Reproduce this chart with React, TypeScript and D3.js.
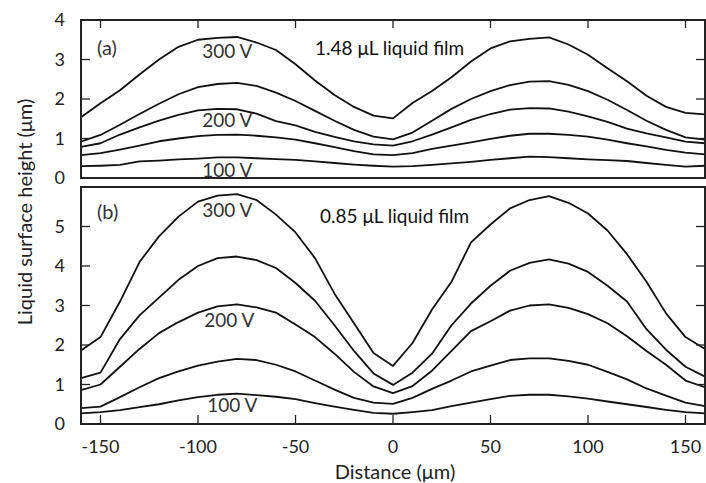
import * as d3 from 'd3';

// distance grid (µm)
const distance = [-160, -150, -140, -130, -120, -110, -100, -90, -80, -70, -60, -50, -40, -30, -20, -10, 0,
  10, 20, 30, 40, 50, 60, 70, 80, 90, 100, 110, 120, 130, 140, 150, 160];

// (a) 1.48 µL film, heights in µm
const a300 = [1.54, 1.89, 2.22, 2.62, 3.0, 3.32, 3.5, 3.55, 3.57, 3.43, 3.24, 2.88, 2.47, 2.1, 1.8, 1.58, 1.51,
  1.9, 2.2, 2.55, 2.95, 3.28, 3.46, 3.52, 3.56, 3.38, 3.12, 2.78, 2.45, 2.08, 1.8, 1.65, 1.61];
const a250 = [0.92, 1.09, 1.35, 1.62, 1.88, 2.12, 2.3, 2.38, 2.41, 2.33, 2.16, 1.95, 1.7, 1.45, 1.22, 1.05, 0.98,
  1.15, 1.45, 1.75, 2.0, 2.2, 2.35, 2.44, 2.45, 2.36, 2.2, 1.98, 1.72, 1.45, 1.22, 1.03, 0.97];
const a200 = [0.79, 0.88, 1.1, 1.28, 1.45, 1.6, 1.71, 1.75, 1.74, 1.63, 1.44, 1.33, 1.17, 1.04, 0.93, 0.85, 0.82,
  0.93, 1.1, 1.28, 1.47, 1.62, 1.73, 1.77, 1.76, 1.68, 1.56, 1.42, 1.25, 1.13, 1.03, 0.92, 0.88];
const a150 = [0.58, 0.63, 0.72, 0.82, 0.93, 1.0, 1.06, 1.09, 1.1, 1.07, 1.03, 0.97, 0.88, 0.78, 0.68, 0.6, 0.58,
  0.63, 0.74, 0.82, 0.9, 0.99, 1.07, 1.12, 1.12, 1.09, 1.05, 0.97, 0.88, 0.8, 0.71, 0.64, 0.6];
const a100 = [0.3, 0.31, 0.33, 0.42, 0.44, 0.47, 0.49, 0.52, 0.52, 0.5, 0.48, 0.46, 0.42, 0.38, 0.34, 0.31, 0.29,
  0.3, 0.33, 0.37, 0.41, 0.46, 0.5, 0.54, 0.53, 0.5, 0.47, 0.45, 0.43, 0.38, 0.33, 0.29, 0.31];

// (b) 0.85 µL film
const b300 = [1.86, 2.2, 3.1, 4.1, 4.75, 5.25, 5.63, 5.78, 5.82, 5.67, 5.3, 4.85, 4.2, 3.3, 2.55, 1.8, 1.47,
  2.05, 2.9, 3.6, 4.6, 5.05, 5.46, 5.67, 5.77, 5.6, 5.33, 4.9, 4.3, 3.6, 2.8, 2.2, 1.9];
const b250 = [1.16, 1.3, 2.15, 2.75, 3.2, 3.65, 4.0, 4.2, 4.24, 4.15, 3.95, 3.57, 3.12, 2.5, 1.85, 1.28, 0.99,
  1.3, 1.78, 2.5, 3.05, 3.5, 3.88, 4.08, 4.17, 4.06, 3.85, 3.5, 3.1, 2.4, 1.88, 1.45, 1.2];
const b200 = [0.86, 1.0, 1.45, 1.9, 2.3, 2.58, 2.82, 2.98, 3.03, 2.95, 2.82, 2.52, 2.2, 1.78, 1.32, 0.95, 0.78,
  0.96, 1.35, 1.85, 2.35, 2.6, 2.87, 3.0, 3.03, 2.94, 2.78, 2.55, 2.22, 1.85, 1.5, 1.1, 0.93];
const b150 = [0.4, 0.44, 0.68, 0.93, 1.16, 1.33, 1.48, 1.58, 1.65, 1.62, 1.5, 1.33, 1.1, 0.87, 0.66, 0.54, 0.51,
  0.66, 0.89, 1.1, 1.33, 1.48, 1.62, 1.66, 1.66, 1.6, 1.5, 1.32, 1.13, 0.9, 0.72, 0.54, 0.45];
const b100 = [0.27, 0.3, 0.35, 0.43, 0.5, 0.6, 0.68, 0.74, 0.77, 0.73, 0.69, 0.63, 0.53, 0.44, 0.36, 0.28, 0.26,
  0.3, 0.35, 0.45, 0.54, 0.63, 0.71, 0.74, 0.74, 0.7, 0.64, 0.57, 0.5, 0.43, 0.36, 0.3, 0.27];

const xTicks = [-150, -100, -50, 0, 50, 100, 150];
const aTicks = [0, 1, 2, 3, 4];
const bTicks = [0, 1, 2, 3, 4, 5];

const FONT = 'Lato, "Open Sans", sans-serif';

const W = 706, H = 483;
const x = d3.scaleLinear().domain([-160, 160]).range([81, 705]);

function Panel(props: { top: number; bottom: number; max: number; ticks: number[]; series: number[][];
  tag: string; note: string; labels: { text: string; v: number; dx: number }[]; tickSide: 'top' | 'bottom';
  noteX: number; noteY: number; tagY: number }) {
  const y = d3.scaleLinear().domain([0, props.max]).range([props.bottom, props.top]);
  const line = d3.line<number>().x((_, i) => x(distance[i])).y(d => y(d));
  const [x0, x1] = x.range();
  const inner = props.ticks.filter(t => t > 0 && t < props.max);
  return (
    <g>
      {props.series.map((s, i) => (
        <path key={i} d={line(s) || ''} fill="none" stroke="#111" strokeWidth={1.8} strokeLinejoin="round" />
      ))}
      {inner.map(t => (
        <g key={t} stroke="#222" strokeWidth={1.3}>
          <line x1={x0} x2={x0 + 9} y1={y(t)} y2={y(t)} />
          <line x1={x1} x2={x1 - 9} y1={y(t)} y2={y(t)} />
        </g>
      ))}
      {xTicks.map(t => (
        <line key={t} x1={x(t)} x2={x(t)} stroke="#222" strokeWidth={1.3}
          y1={props.tickSide === 'top' ? props.top : props.bottom}
          y2={props.tickSide === 'top' ? props.top + 8 : props.bottom - 9} />
      ))}
      {props.ticks.map(t => (
        <text key={t} x={65} y={y(t)} dy="0.36em" textAnchor="end" fontSize={18} fill="#222" fontFamily={FONT}>{t}</text>
      ))}
      <rect x={x0} y={props.top} width={x1 - x0} height={props.bottom - props.top} fill="none" stroke="#222" strokeWidth={2} />
      <text x={97} y={props.tagY} fontSize={20} fill="#333" fontFamily={FONT}>{props.tag}</text>
      <text x={props.noteX} y={props.noteY} fontSize={19} fill="#111" fontFamily={FONT}>{props.note}</text>
      {props.labels.map(l => (
        <text key={l.text} x={x(-85) + l.dx} y={y(l.v)} dy="0.36em" textAnchor="middle" fontSize={19} fill="#333" fontFamily={FONT}>{l.text}</text>
      ))}
    </g>
  );
}

export default function App() {
  return (
    <svg width={W} height={H} style={{ position: 'absolute', left: 0, top: 0, background: '#fff' }}>
      <Panel top={20} bottom={178} max={4} ticks={aTicks} series={[a300, a250, a200, a150, a100]}
        tag="(a)" note="1.48 μL liquid film" tickSide="top" noteX={315} noteY={55} tagY={55}
        labels={[{ text: '300 V', v: 3.2, dx: 0 }, { text: '200 V', v: 1.46, dx: 0 }, { text: '100 V', v: 0.2, dx: 0 }]} />
      <Panel top={187} bottom={424} max={6} ticks={bTicks} series={[b300, b250, b200, b150, b100]}
        tag="(b)" note="0.85 μL liquid film" tickSide="bottom" noteX={320} noteY={223} tagY={219}
        labels={[{ text: '300 V', v: 5.42, dx: 0 }, { text: '200 V', v: 2.63, dx: 2 }, { text: '100 V', v: 0.47, dx: 5 }]} />
      {xTicks.map(t => (
        <text key={t} x={x(t)} y={453} textAnchor="middle" fontSize={18} fill="#222" fontFamily={FONT}>{t}</text>
      ))}
      <text x={395} y={479} textAnchor="middle" fontSize={20} fill="#222" fontFamily={FONT}>Distance (μm)</text>
      <text transform="translate(32,212) rotate(-90)" textAnchor="middle" fontSize={20} fill="#222" fontFamily={FONT}>Liquid surface height (μm)</text>
    </svg>
  );
}
